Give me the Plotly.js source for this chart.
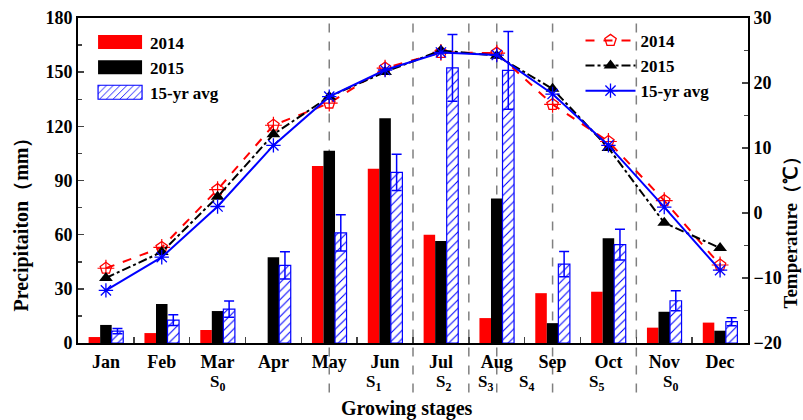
<!DOCTYPE html>
<html>
<head>
<meta charset="utf-8">
<script src="https://cdn.plot.ly/plotly-3.0.1.min.js"></script>
<style>html,body{margin:0;padding:0;background:#fff;}#chart{width:803px;height:420px;}</style>
</head>
<body>
<div id="chart"></div>
<script>
// ---- data ----
const months = ["Jan","Feb","Mar","Apr","May","Jun","Jul","Aug","Sep","Oct","Nov","Dec"];
const precip2014 = [3.3, 5.5, 7.2, 0, 98, 96.5, 60, 13.8, 27.6, 28.4, 8.5, 11.3];
const precip2015 = [10, 21.6, 17.7, 47.5, 106.5, 124.5, 56.5, 80, 11, 58, 17.3, 6.8];
const precipAvg = [6.6, 12.7, 18.8, 43, 61, 94.5, 152.4, 151, 43.7, 54.5, 23.4, 11.8];
const precipAvgErr = [1.5, 3, 4.5, 7.5, 10, 10, 18.5, 21.5, 7, 8.5, 5.6, 2.2];
const temp2014 = [-8.5, -5.3, 3.6, 13.5, 16.9, 22.3, 24.7, 24.6, 16.7, 11.0, 1.9, -8.0];
const temp2015 = [-10.0, -6.0, 2.5, 12.1, 17.9, 21.7, 25.0, 24.2, 19.1, 10.0, -1.5, -5.4];
const tempAvg = [-11.9, -6.8, 1.0, 10.4, 17.9, 22.0, 24.7, 24.3, 18.3, 10.4, 0.9, -8.8];
const stageLabels = ["S<sub>0</sub>","S<sub>1</sub>","S<sub>2</sub>","S<sub>3</sub>","S<sub>4</sub>","S<sub>5</sub>","S<sub>0</sub>"];
const stageX = [2, 4.8, 6.05, 6.8, 7.53, 8.78, 10.12];
const stageBounds = [4, 5.5, 6.5, 7, 8, 9.5];

const FONT = '"Liberation Serif","Times New Roman",serif';

const traces = [
  {type:'bar', name:'2014', x:months, y:precip2014, yaxis:'y',
   marker:{color:'#ff0000', line:{width:0}}, legend:'legend'},
  {type:'bar', name:'2015', x:months, y:precip2015, yaxis:'y',
   marker:{color:'#000000', line:{width:0}}, legend:'legend'},
  {type:'bar', name:'15-yr avg', x:months, y:precipAvg, yaxis:'y',
   marker:{color:'#ffffff', line:{color:'#0000ff', width:1.2},
     pattern:{shape:'/', fgcolor:'#0000ff', bgcolor:'#ffffff', size:6, solidity:0.18}},
   error_y:{type:'data', array:precipAvgErr, visible:true, color:'#0000ff', thickness:1.5, width:5},
   legend:'legend'},
  {type:'scatter', mode:'lines+markers', name:'2014', x:months, y:temp2014, yaxis:'y2',
   line:{color:'#ff0000', width:2, dash:'dash'},
   marker:{symbol:'pentagon-open', size:12, color:'#ff0000', line:{width:1.3}}, legend:'legend2'},
  {type:'scatter', mode:'markers', name:'2014', x:months, y:temp2014, yaxis:'y2', showlegend:false,
   marker:{symbol:'cross-thin-open', size:12, color:'#ff0000', line:{width:1.2, color:'#ff0000'}}, hoverinfo:'skip'},
  {type:'scatter', mode:'lines+markers', name:'2015', x:months, y:temp2015, yaxis:'y2',
   line:{color:'#000000', width:2, dash:'dashdot'},
   marker:{symbol:'triangle-up', size:12, color:'#000000'}, legend:'legend2'},
  {type:'scatter', mode:'lines+markers', name:'15-yr avg', x:months, y:tempAvg, yaxis:'y2',
   line:{color:'#0000ff', width:2},
   marker:{symbol:'asterisk-open', size:12, color:'#0000ff', line:{width:1.3, color:'#0000ff'}}, legend:'legend2'}
];

const shapes = stageBounds.map(b => ({
  type:'line', xref:'x', yref:'paper', x0:b, x1:b, y0:-0.152, y1:1,
  line:{color:'#808080', width:1.5, dash:'dash'}, layer:'below'
}));

const annotations = stageLabels.map((t,i) => ({
  text:t, xref:'x', yref:'paper', x:stageX[i], y:-0.124, showarrow:false,
  xanchor:'center', yanchor:'middle', font:{family:FONT, size:17, color:'#000', weight:700}
}));
annotations.push(
  {text:'Precipitaiton（mm）', xref:'paper', yref:'paper', x:-0.085, y:0.38, textangle:-90,
   showarrow:false, xanchor:'center', yanchor:'middle', font:{family:FONT, size:20, color:'#000', weight:700}},
  {text:'Temperature（℃）', xref:'paper', yref:'paper', x:1.064, y:0.355, textangle:-90,
   showarrow:false, xanchor:'center', yanchor:'middle', font:{family:FONT, size:19, color:'#000', weight:700}},
  {text:'Growing stages', xref:'paper', yref:'paper', x:0.491, y:-0.203,
   showarrow:false, xanchor:'center', yanchor:'middle', font:{family:FONT, size:20, color:'#000', weight:700}}
);

const layout = {
  width:803, height:420,
  margin:{l:78, r:55, t:18, b:77},
  paper_bgcolor:'#fff', plot_bgcolor:'#fff',
  font:{family:FONT, color:'#000'},
  barmode:'group', bargap:0.38, bargroupgap:0,
  xaxis:{type:'category', range:[-0.5, 11.5], tickson:'boundaries', ticks:'inside', ticklen:6,
    tickwidth:1.5, showline:true, linewidth:2, linecolor:'#000', mirror:true, showgrid:false,
    zeroline:false, tickfont:{family:FONT, size:18, weight:700}, ticklabelstandoff:1},
  yaxis:{range:[0,180], dtick:30, ticks:'inside', ticklen:6, tickwidth:1.5, showline:true,
    linewidth:2, linecolor:'#000', showgrid:false, zeroline:false,
    minor:{dtick:15, ticks:'inside', ticklen:4, tickwidth:1.5},
    tickfont:{family:FONT, size:18, weight:700}},
  yaxis2:{range:[-20,30], dtick:10, overlaying:'y', side:'right', ticks:'inside', ticklen:6,
    tickwidth:1.5, showline:true, linewidth:2, linecolor:'#000', showgrid:false, zeroline:false,
    minor:{dtick:5, ticks:'inside', ticklen:4, tickwidth:1.5},
    tickfont:{family:FONT, size:18, weight:700}},
  legend:{x:0.018, y:0.98, xanchor:'left', yanchor:'top', bgcolor:'rgba(0,0,0,0)',
    font:{family:FONT, size:17, weight:700}, tracegroupgap:0, itemwidth:50},
  legend2:{x:0.75, y:0.985, xanchor:'left', yanchor:'top', bgcolor:'rgba(0,0,0,0)',
    font:{family:FONT, size:17, weight:700}, tracegroupgap:0, itemwidth:50},
  shapes:shapes,
  annotations:annotations
};

Plotly.newPlot('chart', traces, layout, {displayModeBar:false, staticPlot:true}).then(gd => {
  // widen the bar legend swatches to match the reference's rectangular keys
  gd.querySelectorAll('g.legend .legendpoints path').forEach(p => {
    p.setAttribute('d', 'M-22,7H22V-7H-22Z');
  });
});
</script>
</body>
</html>
